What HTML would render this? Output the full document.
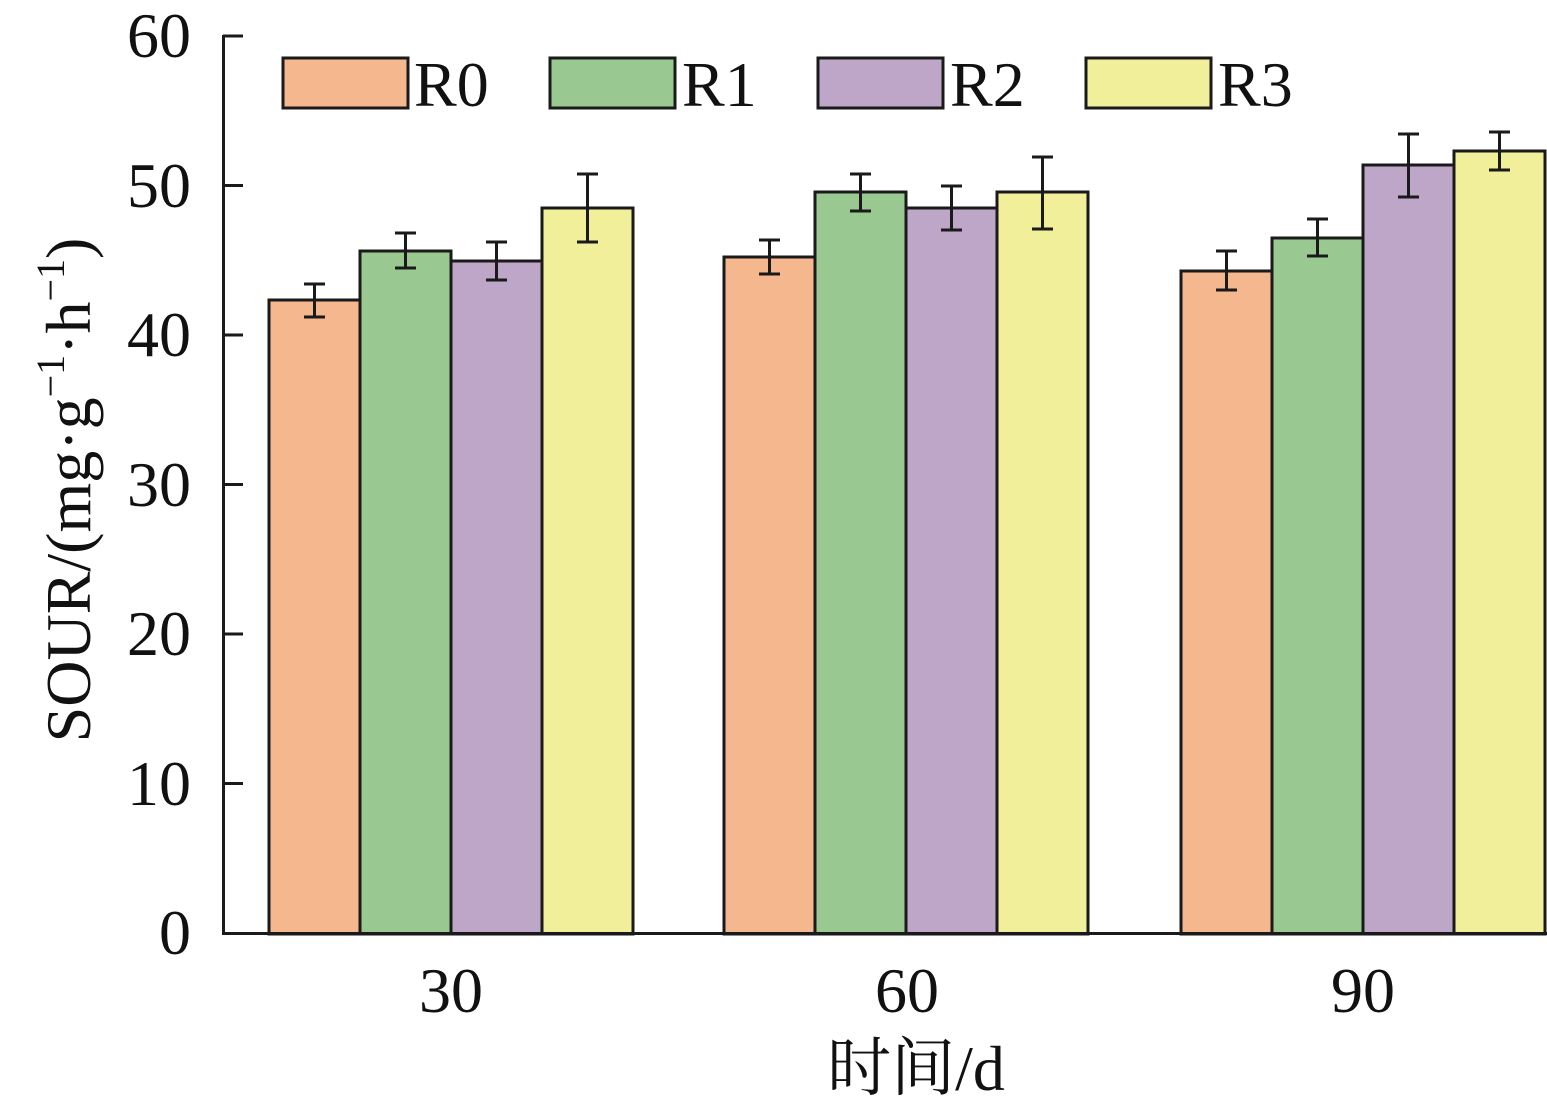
<!DOCTYPE html>
<html><head><style>body{margin:0;background:#fff}svg{display:block}text{font-family:"Liberation Serif","Times New Roman","Noto Serif CJK SC",serif}</style></head><body>
<svg width="1547" height="1112" viewBox="0 0 1547 1112" xmlns="http://www.w3.org/2000/svg" fill="#111">
<g stroke="#1a1a1a" stroke-width="3">
<rect x="269" y="300" width="91" height="634" fill="#f5b78e"/>
<rect x="360" y="251" width="91" height="683" fill="#99c991"/>
<rect x="451" y="261" width="91" height="673" fill="#bda6c8"/>
<rect x="542" y="208" width="91" height="726" fill="#f2ef9b"/>
<rect x="724" y="257" width="91" height="677" fill="#f5b78e"/>
<rect x="815" y="192" width="91" height="742" fill="#99c991"/>
<rect x="906" y="208" width="91" height="726" fill="#bda6c8"/>
<rect x="997" y="192" width="91" height="742" fill="#f2ef9b"/>
<rect x="1181" y="271" width="91" height="663" fill="#f5b78e"/>
<rect x="1272" y="238" width="91" height="696" fill="#99c991"/>
<rect x="1363" y="165" width="91" height="769" fill="#bda6c8"/>
<rect x="1454" y="151" width="91" height="783" fill="#f2ef9b"/>
</g>
<g stroke="#1a1a1a" stroke-width="3" fill="none">
<path d="M314.5 284V317M304 284H325M304 317H325"/>
<path d="M405.5 233V268M395 233H416M395 268H416"/>
<path d="M496.5 242V280M486 242H507M486 280H507"/>
<path d="M587.5 174V242M577 174H598M577 242H598"/>
<path d="M769.5 240V274M759 240H780M759 274H780"/>
<path d="M860.5 174V211M850 174H871M850 211H871"/>
<path d="M951.5 186V230M941 186H962M941 230H962"/>
<path d="M1042.5 157V229M1032 157H1053M1032 229H1053"/>
<path d="M1226.5 251V290M1216 251H1237M1216 290H1237"/>
<path d="M1317.5 219V256M1307 219H1328M1307 256H1328"/>
<path d="M1408.5 134V197M1398 134H1419M1398 197H1419"/>
<path d="M1499.5 132V170M1489 132H1510M1489 170H1510"/>
<path d="M223.5 35V934M222 933.5H1547"/>
<path d="M223 36H243M223 185.5H243M223 335H243M223 484.5H243M223 634H243M223 783.5H243"/>
<rect x="283" y="58" width="125" height="50" fill="#f5b78e"/>
<rect x="550" y="58" width="125" height="50" fill="#99c991"/>
<rect x="818" y="58" width="125" height="50" fill="#bda6c8"/>
<rect x="1086" y="58" width="125" height="50" fill="#f2ef9b"/>
</g>
<g font-size="64">
<text x="414" y="106">R0</text><text x="682" y="106">R1</text><text x="950" y="106">R2</text><text x="1218" y="106">R3</text>
</g>
<g font-size="64" text-anchor="end">
<text x="191" y="57">60</text><text x="191" y="207">50</text><text x="191" y="356">40</text><text x="191" y="506">30</text><text x="191" y="655">20</text><text x="191" y="805">10</text><text x="191" y="954">0</text>
</g>
<g font-size="64" text-anchor="middle">
<text x="451" y="1012">30</text><text x="907" y="1012">60</text><text x="1363" y="1012">90</text>
<text x="916" y="1090">时间/d</text>
</g>
<text transform="translate(90,490) rotate(-90)" font-size="64" text-anchor="middle">SOUR/(mg·g<tspan font-size="40" dy="-26">−1</tspan><tspan dy="26">·h</tspan><tspan font-size="40" dy="-26">−1</tspan><tspan dy="26">)</tspan></text>
</svg>
</body></html>
